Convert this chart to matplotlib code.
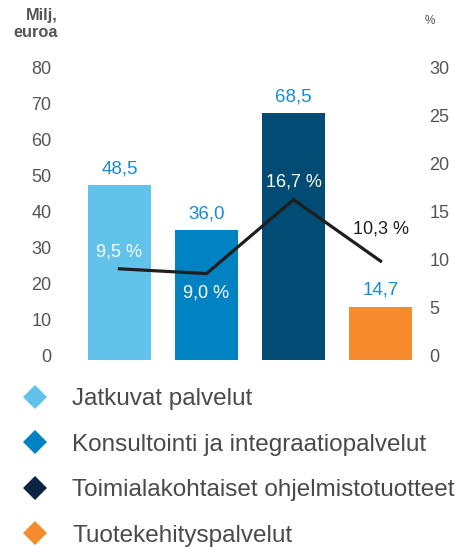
import matplotlib.pyplot as plt
from matplotlib.lines import Line2D
import matplotlib.transforms as mtransforms

plt.rcParams['font.family'] = ['Liberation Sans', 'DejaVu Sans']

# data
categories = ['Jatkuvat palvelut', 'Konsultointi ja integraatiopalvelut',
              'Toimialakohtaiset ohjelmistotuotteet', 'Tuotekehityspalvelut']
revenue = [48.5, 36.0, 68.5, 14.7]          # Milj. euroa
share = [9.5, 9.0, 16.7, 10.3]              # %
revenue_labels = ['48,5', '36,0', '68,5', '14,7']
share_labels = ['9,5 %', '9,0 %', '16,7 %', '10,3 %']
left_ticks = [0, 10, 20, 30, 40, 50, 60, 70, 80]
right_ticks = [0, 5, 10, 15, 20, 25, 30]

bar_colors = ['#62c3ea', '#0082c3', '#004c74', '#f68b2d']
legend_colors = ['#62c3ea', '#0082c3', '#0b2441', '#f68b2d']
grey = '#555555'
blue_txt = '#1a8bd3'

fig = plt.figure(figsize=(4.56, 5.47), dpi=100)
W, H = 456, 547
ax = fig.add_axes([75 / W, (H - 360) / H, 350 / W, 288 / H])
x = range(len(categories))
ax.bar(x, revenue, width=0.724, color=bar_colors, zorder=1)
ax.set_xlim(-0.51, 3.51)
ax.set_ylim(0, 80)
ax.set_xticks([])
ax.set_yticks(left_ticks)
for s in ax.spines.values():
    s.set_visible(False)

ax2 = ax.twinx()
ax2.set_ylim(0, 30)
ax2.set_yticks(right_ticks)
for s in ax2.spines.values():
    s.set_visible(False)
ax2.plot(x, share, color='#1e1e1e', lw=2.3, zorder=3, solid_joinstyle='miter')

ax.tick_params(axis='y', length=0, pad=17, labelsize=13, labelcolor=grey)
ax2.tick_params(axis='y', length=0, pad=3, labelsize=13, labelcolor=grey)
shift = mtransforms.ScaledTranslation(0, 5 / 100, fig.dpi_scale_trans)
for lab in ax.get_yticklabels() + ax2.get_yticklabels():
    lab.set_transform(lab.get_transform() + shift)

# value labels above bars
for i, v in enumerate(revenue):
    ax.annotate(revenue_labels[i], (i, v), xytext=(0, 6), textcoords='offset points',
                ha='center', va='bottom', fontsize=13.5, color=blue_txt)

# share labels
share_offsets = [(0, 12), (0, -14), (0, 13), (0, 23)]
share_colors = ['white', 'white', 'white', '#1e1e1e']
for i, v in enumerate(share):
    ax2.annotate(share_labels[i], (i, v), xytext=share_offsets[i], textcoords='offset points',
                 ha='center', va='center', fontsize=13, color=share_colors[i], zorder=4)

fig.text(58 / W, 1 - 8 / H, 'Milj,\neuroa', ha='right', va='top', fontsize=11.8,
         fontweight='bold', color=grey, linespacing=1.2)
fig.text(425 / W, 1 - 21 / H, '%', ha='left', va='center', fontsize=8.5, color=grey)

handles = [Line2D([], [], marker='D', ls='none', markersize=12.5, color=c, markeredgewidth=0)
           for c in legend_colors]
fig.legend(handles, categories, loc='upper left', bbox_to_anchor=(23 / W, 1 - 388 / H),
           frameon=False, fontsize=17.5, labelcolor='#4a4a4a', handlelength=1.0,
           handletextpad=1.03, labelspacing=0.97, borderpad=0, borderaxespad=0)

fig.savefig('out.png', dpi=100)
